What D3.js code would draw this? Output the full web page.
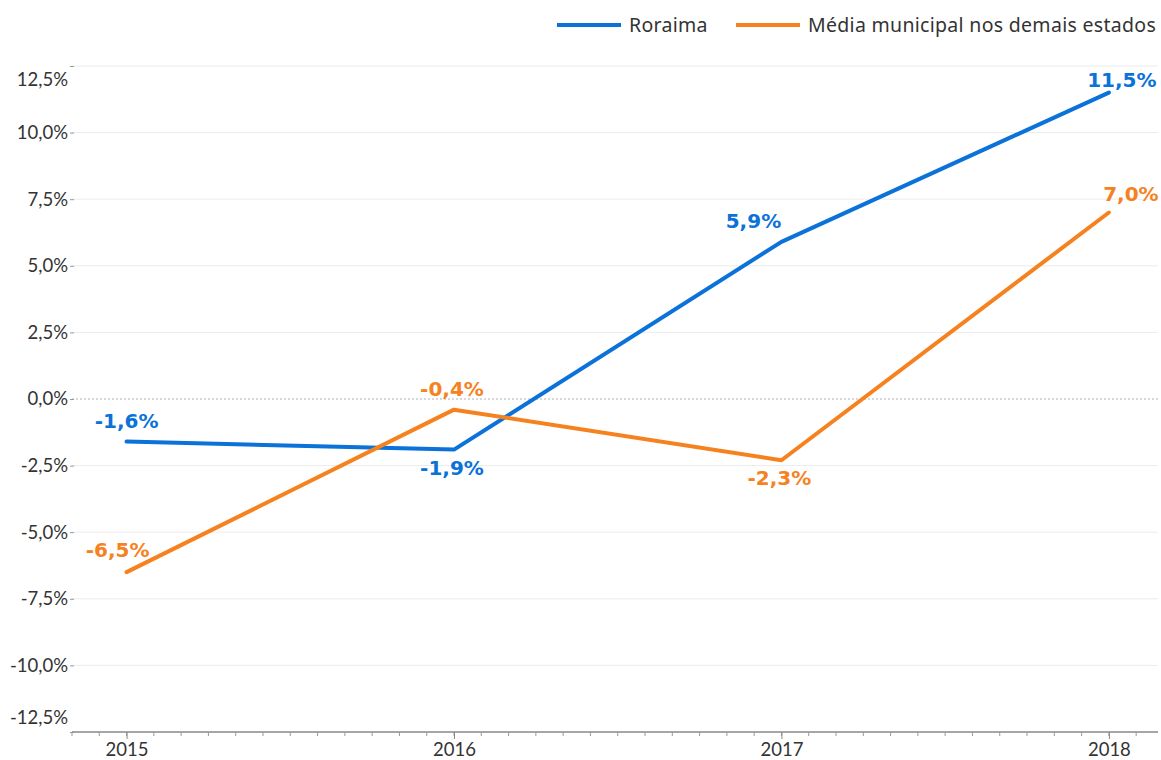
<!DOCTYPE html>
<html><head><meta charset="utf-8">
<script src="https://cdn.jsdelivr.net/npm/d3@7"></script>
<style>
html,body{margin:0;padding:0;background:#fff;}
svg{display:block;font-family:Lato,"Open Sans",sans-serif;}
</style></head>
<body><svg id="chart" width="1161" height="760"></svg>
<script>
const years = [2015, 2016, 2017, 2018];
const seriesNames = ["Roraima", "Média municipal nos demais estados"];
const roraima = [-1.6, -1.9, 5.9, 11.5];
const demais = [-6.5, -0.4, -2.3, 7.0];
const yTicks = [-12.5, -10, -7.5, -5, -2.5, 0, 2.5, 5, 7.5, 10, 12.5];
const colors = ["#0a72d8", "#f5821f"];
// data-label offsets relative to each point (placement only)
const roraimaLabelOffset = [[0, -14], [-2, 25], [-28, -14], [13, -6]];
const demaisLabelOffset = [[-9, -15], [-2, -14], [-2, 25], [22, -12]];

(function () {
const svg = d3.select("#chart");
const mLeft = 72, mRight = 1158, mTop = 66, mBottom = 732;

const x = d3.scaleLinear().domain([2015 - 2/12, 2018 + 1.8/12]).range([mLeft, mRight]);
const y = d3.scaleLinear().domain([-12.5, 12.5]).range([mBottom, mTop]);
const fmt = v => d3.format(".1f")(v).replace(".", ",").replace("−", "-") + "%";

// gridlines
svg.append("g").selectAll("line").data(yTicks.filter(t => t !== 0 && t !== -12.5)).join("line")
  .attr("x1", mLeft).attr("x2", mRight).attr("y1", d => y(d)).attr("y2", d => y(d))
  .attr("stroke", "#ececec").attr("stroke-width", 1);
// zero line dotted
svg.append("line").attr("x1", mLeft).attr("x2", mRight).attr("y1", y(0)).attr("y2", y(0))
  .attr("stroke", "#b0b0b0").attr("stroke-width", 1).attr("stroke-dasharray", "2,2");

// y axis ticks + labels
const yAxis = d3.axisLeft(y).tickValues(yTicks).tickSize(4).tickPadding(2).tickFormat(fmt);
const gy = svg.append("g").attr("transform", `translate(${mLeft + 2},0)`).call(yAxis);
gy.select(".domain").remove();
gy.selectAll(".tick line").attr("stroke", "#999");
gy.selectAll(".tick text").attr("font-size", 18.5).attr("fill", "#333")
  .attr("font-family", "Lato, sans-serif")
  .attr("dy", d => d === 12.5 ? "1.05em" : d === -12.5 ? "-0.45em" : "0.32em");

// x axis
const minor = d3.range(-2, 39).map(m => 2015 + m / 12);
const gx = svg.append("g").attr("transform", `translate(0,${mBottom})`);
gx.append("line").attr("x1", mLeft).attr("x2", mRight).attr("stroke", "#888").attr("stroke-width", 1.5);
gx.selectAll(".minor").data(minor).join("line").attr("class", "minor")
  .attr("x1", d => x(d)).attr("x2", d => x(d)).attr("y1", 0).attr("y2", 4)
  .attr("stroke", "#999").attr("stroke-width", 1);
const xAxis = d3.axisBottom(x).tickValues(years).tickFormat(d3.format("d")).tickSize(7).tickPadding(4);
const gxa = gx.append("g").call(xAxis);
gxa.select(".domain").remove();
gxa.selectAll(".tick line").attr("stroke", "#888");
gxa.selectAll(".tick text").attr("font-size", 18.5).attr("fill", "#333").attr("font-family", "Lato, sans-serif");

// lines
const line = d3.line().x((d, i) => x(years[i])).y(d => y(d));
[roraima, demais].forEach((s, k) => {
  svg.append("path").datum(s).attr("d", line).attr("fill", "none")
    .attr("stroke", colors[k]).attr("stroke-width", 4).attr("stroke-linecap", "round").attr("stroke-linejoin", "round");
});

// data labels
function labels(s, off, color) {
  svg.append("g").selectAll("text").data(s).join("text")
    .text(d => fmt(d)).attr("fill", color)
    .attr("font-size", 20).attr("font-weight", "bold").attr("font-family", "'DejaVu Sans', sans-serif")
    .attr("text-anchor", "middle")
    .attr("x", (d, i) => x(years[i]) + off[i][0])
    .attr("y", (d, i) => y(d) + off[i][1]);
}
labels(roraima, roraimaLabelOffset, colors[0]);
labels(demais, demaisLabelOffset, colors[1]);

// legend
const leg = svg.append("g");
const legItems = [{x: 557, name: seriesNames[0]}, {x: 736, name: seriesNames[1]}];
legItems.forEach((it, k) => {
  leg.append("line").attr("x1", it.x).attr("x2", it.x + 64).attr("y1", 25).attr("y2", 25)
    .attr("stroke", colors[k]).attr("stroke-width", 4);
  leg.append("text").attr("x", it.x + 72).attr("y", 25).attr("dy", "0.35em")
    .attr("font-size", 19.5).attr("letter-spacing", 0.3).attr("fill", "#333")
    .attr("font-family", "'Noto Sans', sans-serif").text(it.name);
});
})();
</script></body></html>
